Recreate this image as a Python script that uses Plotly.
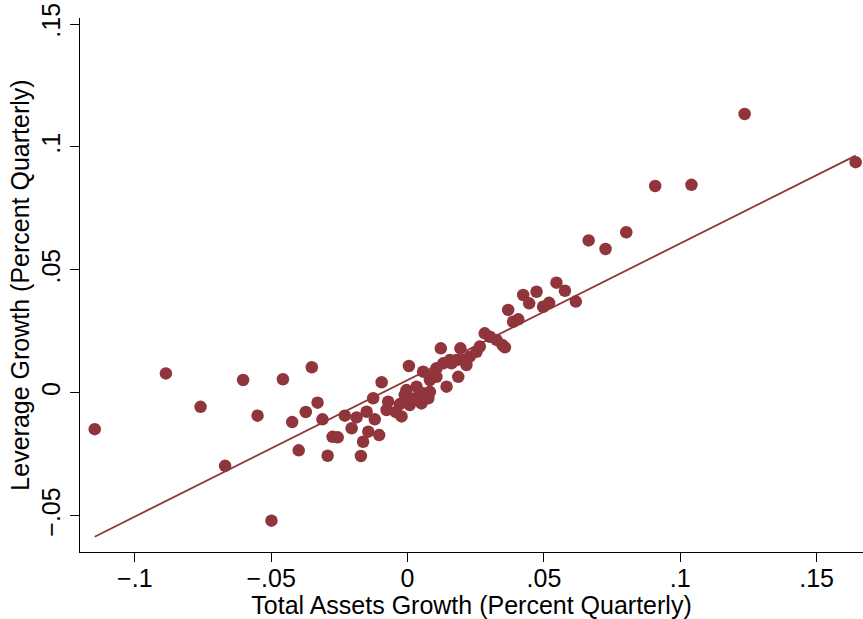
import plotly.graph_objects as go

# Total assets growth (x) and leverage growth (y)
asset_growth = [
    -0.1147, -0.0886, -0.0759, -0.0603, -0.0457, -0.0351, -0.0550, -0.0669, -0.0499, -0.0330,
    -0.0373, -0.0423, -0.0312, -0.0399, -0.0293, -0.0275, -0.0256,
    -0.0230, -0.0205, -0.0187, -0.0150, -0.0120, -0.0144, -0.0104, -0.0163, -0.0171, -0.0126,
    -0.0095, -0.0071, -0.0077, -0.0022, 0.0005, 0.0057, 0.0122, 0.0194, 0.0143,
    -0.0004, 0.0033, 0.0057, 0.0027, 0.0008, 0.0051, -0.0010, 0.0021, 0.0076, 0.0082, -0.0043, -0.0028,
    0.0082, 0.0106, 0.0094, 0.0131, 0.0106, 0.0155, 0.0180, 0.0204, 0.0228, 0.0253, 0.0161, 0.0216,
    0.0186, 0.0265, 0.0283, 0.0302, 0.0326, 0.0348, 0.0357,
    0.0473, 0.0424, 0.0446, 0.0497, 0.0519, 0.0369, 0.0387, 0.0406, 0.0546, 0.0577, 0.0617,
    0.0664, 0.0726, 0.0802, 0.0908, 0.1041, 0.1236, 0.1643,
]
leverage_growth = [
    -0.0148, 0.0079, -0.0057, 0.0052, 0.0055, 0.0104, -0.0093, -0.0297, -0.0520, -0.0040,
    -0.0078, -0.0119, -0.0108, -0.0234, -0.0256, -0.0179, -0.0181,
    -0.0093, -0.0144, -0.0100, -0.0077, -0.0108, -0.0158, -0.0172, -0.0199, -0.0257, -0.0022,
    0.0043, -0.0036, -0.0070, -0.0096, 0.0109, 0.0086, 0.0181, 0.0181, 0.0025,
    0.0011, 0.0025, -0.0002, -0.0022, -0.0050, -0.0043, -0.0009, -0.0029, -0.0022, 0.0004, -0.0078, -0.0046,
    0.0052, 0.0065, 0.0072, 0.0120, 0.0100, 0.0133, 0.0133, 0.0133, 0.0147, 0.0167, 0.0120, 0.0113,
    0.0065, 0.0188, 0.0242, 0.0228, 0.0215, 0.0194, 0.0185,
    0.0411, 0.0398, 0.0364, 0.0350, 0.0366, 0.0337, 0.0289, 0.0299, 0.0448, 0.0415, 0.0371,
    0.0620, 0.0585, 0.0653, 0.0841, 0.0846, 0.1134, 0.0938,
]

# Linear fit shown in the reference
fit_intercept = 0.0052
fit_slope = 0.5556

x_tick_vals = [-0.1, -0.05, 0, 0.05, 0.1, 0.15]
x_tick_text = ["\u2212.1", "\u2212.05", "0", ".05", ".1", ".15"]
y_tick_vals = [-0.05, 0, 0.05, 0.1, 0.15]
y_tick_text = ["\u2212.05", "0", ".05", ".1", ".15"]

x_title = "Total Assets Growth (Percent Quarterly)"
y_title = "Leverage Growth (Percent Quarterly)"

COLOR = "#90353B"
FONT = "Liberation Sans"
FS = 25

fit_x = [min(asset_growth), max(asset_growth)]
fit_y = [fit_intercept + fit_slope * v for v in fit_x]

fig = go.Figure()
fig.add_trace(go.Scatter(
    x=asset_growth, y=leverage_growth, mode="markers",
    marker=dict(color=COLOR, size=12.5, line=dict(width=0)),
    cliponaxis=False, hoverinfo="x+y",
))
fig.add_trace(go.Scatter(
    x=fit_x, y=fit_y, mode="lines",
    line=dict(color=COLOR, width=1.8), hoverinfo="skip",
))

axis_common = dict(
    showline=True, linecolor="black", linewidth=1,
    ticks="outside", ticklen=9, tickwidth=1, tickcolor="black",
    showgrid=False, zeroline=False,
    tickfont=dict(family=FONT, size=FS, color="black"),
)

fig.update_layout(
    width=863, height=619,
    margin=dict(l=80, r=0, t=18, b=67),
    paper_bgcolor="white", plot_bgcolor="white",
    showlegend=False,
    font=dict(family=FONT, color="black"),
    xaxis=dict(
        range=[-0.1201, 0.1670],
        tickvals=x_tick_vals, ticktext=x_tick_text,
        title=dict(text=x_title, font=dict(family=FONT, size=FS, color="black"), standoff=0),
        ticklabelstandoff=-5,
        **axis_common,
    ),
    yaxis=dict(
        range=[-0.06475, 0.15245],
        tickvals=y_tick_vals, ticktext=y_tick_text, tickangle=-90,
        title=dict(text=y_title, font=dict(family=FONT, size=FS, color="black"), standoff=0),
        **axis_common,
    ),
)

fig.write_html("out.html")
